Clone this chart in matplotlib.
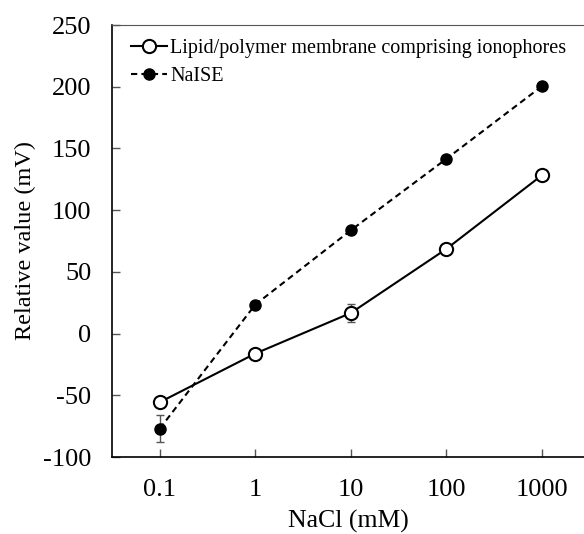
import numpy as np
import matplotlib.pyplot as plt

plt.rc('font', family='Liberation Serif', size=19)
plt.rc('axes', unicode_minus=False)

conc = ['0.1', '1', '10', '100', '1000']
lipid = [-55.6, -16.2, 16.7, 68.6, 128.3]
lipid_err = [2, 4, 7, 2, 2]
naise = [-77, 23.5, 83.7, 141.6, 200.4]
naise_err = [11, 2, 2, 2, 2]

fig = plt.figure(figsize=(5.84, 5.34), dpi=100)
ax = fig.add_axes([112 / 584, 1 - 457 / 534, 1 - 112 / 584, (457 - 25) / 534])
x = np.arange(len(conc))

ax.errorbar(x, lipid, yerr=lipid_err, fmt='none', ecolor='#555555', elinewidth=1, capsize=3)
ax.errorbar(x, naise, yerr=naise_err, fmt='none', ecolor='#555555', elinewidth=1, capsize=3)
ax.plot(x, lipid, '-o', color='black', lw=1.5, ms=9.5, mfc='white', mew=1.5,
        label='Lipid/polymer membrane comprising ionophores')
ax.plot(x, naise, '--o', color='black', lw=1.5, ms=8, mfc='black',
        label='NaISE', dashes=(3, 2))

ax.set_xlim(-0.5, 4.44)
ax.set_ylim(-100, 250)
ax.set_yticks(np.arange(-100, 251, 50))
ax.set_xticks(x)
ax.set_xticklabels(conc)
ax.tick_params(direction='in', length=6, width=1, color='#555555')
ax.tick_params(axis='y', pad=15)
ax.tick_params(axis='x', pad=16)
ax.spines['right'].set_visible(False)
ax.spines['top'].set_color('#555555')
for s in ['left', 'bottom']:
    ax.spines[s].set_linewidth(1.2)
ax.set_xlabel('NaCl (mM)', labelpad=6, fontsize=18.5)
ax.set_ylabel('Relative value (mV)', labelpad=5, fontsize=17.5)

ax.legend(loc='upper left', frameon=False, fontsize=14.5, handlelength=1.8,
          handletextpad=0.15, borderaxespad=0.3, labelspacing=0.45, borderpad=0.4,
          bbox_to_anchor=(0.01, 1.0))

fig.savefig('out.png', dpi=100)
